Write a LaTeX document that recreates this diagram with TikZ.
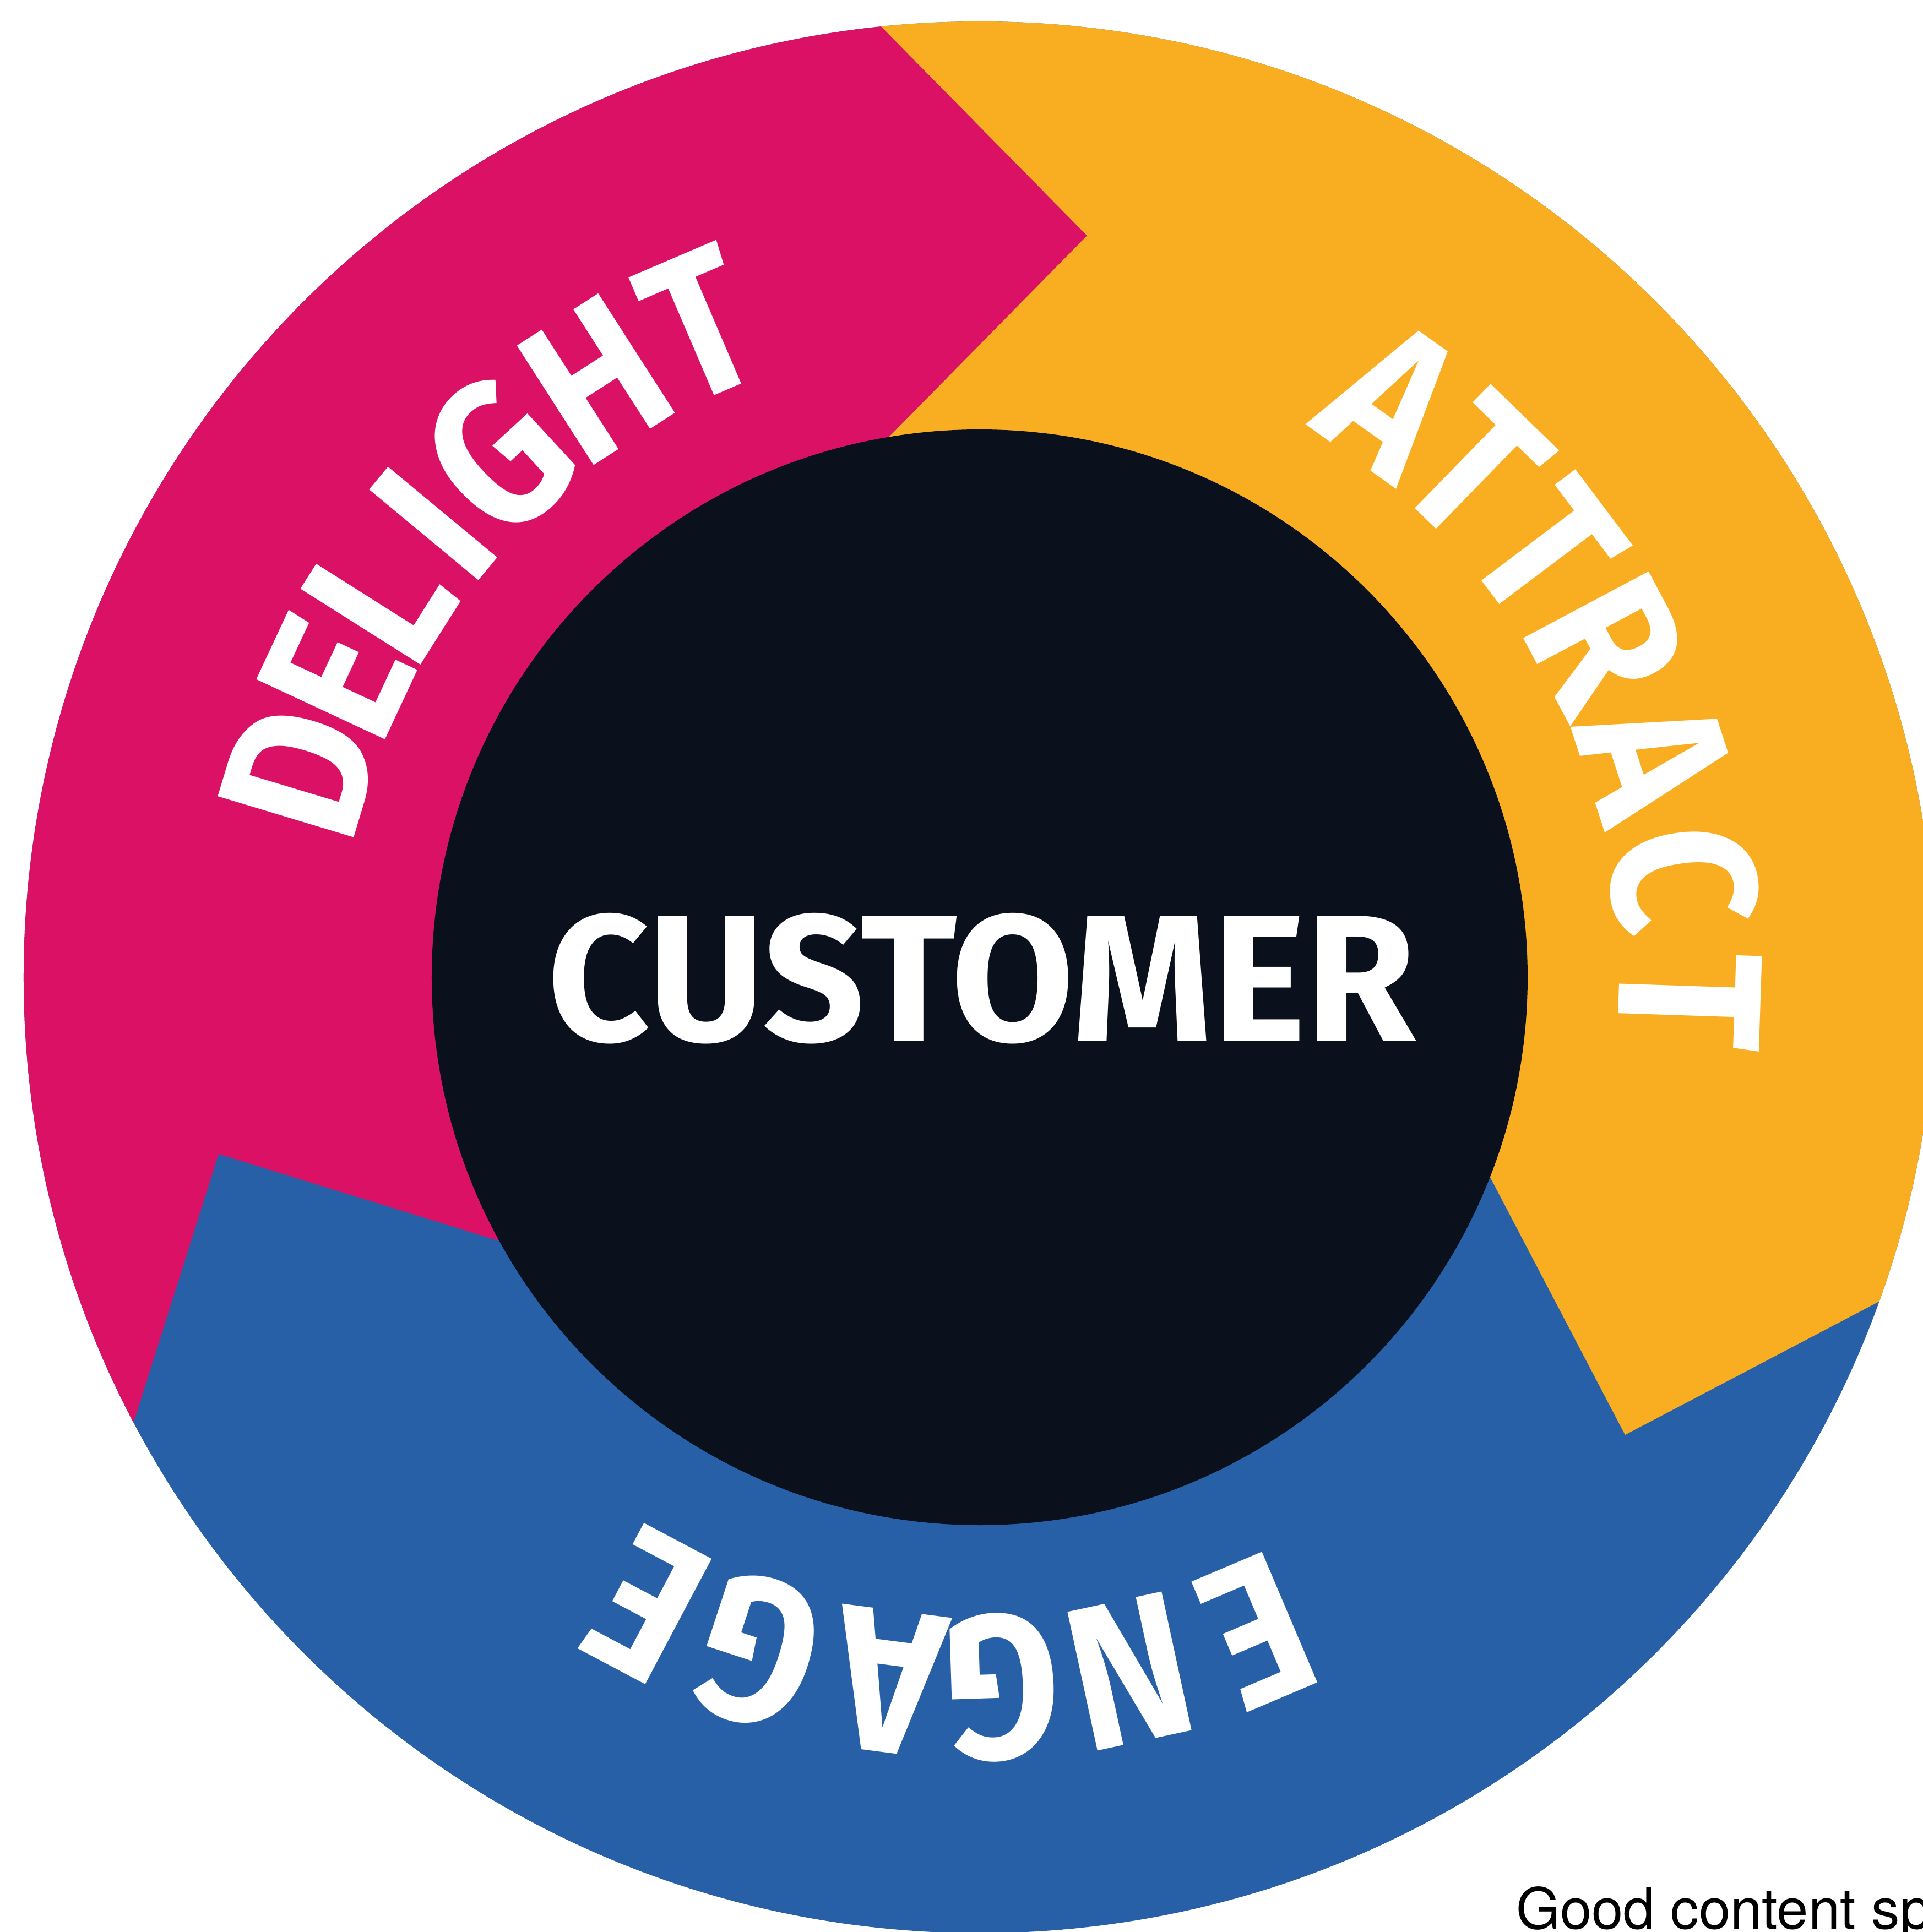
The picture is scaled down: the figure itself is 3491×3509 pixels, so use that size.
\documentclass[tikz,border=0pt]{standalone}
\usepackage{fontspec}
\usepackage{graphicx}
\newfontfamily\wordfont{Fira Sans}[FakeStretch=0.88]
\newfontfamily\notefont{TeX Gyre Heros}
\definecolor{delight}{RGB}{219,17,102}
\definecolor{attract}{RGB}{249,174,34}
\definecolor{engage}{RGB}{40,96,168}
\definecolor{core}{RGB}{10,17,29}

\begin{document}
\begin{tikzpicture}[x=1pt,y=1pt,
  ringletter/.style={text=white, inner sep=0pt, anchor=center,
    font=\wordfont\bfseries\fontsize{372}{372}\selectfont},
  corelabel/.style={text=white, inner sep=0pt, anchor=center},
  notelabel/.style={text=black, inner sep=0pt, anchor=base west,
    font=\notefont\fontsize{103}{103}\selectfont},
]
\useasboundingbox (-1779,-1734) rectangle (1712,1775);
\def\Rout{1736}
\def\Rin{995}
\def\Rtxt{1290}

% chevron corners between the three bands
\coordinate (o1) at (-182,1730);  \coordinate (v1) at (195,1347);   \coordinate (i1) at (-164,982);
\coordinate (o2) at (1633,-589);  \coordinate (v2) at (1172,-831);  \coordinate (i2) at (928,-365);
\coordinate (o3) at (-1536,-807); \coordinate (v3) at (-1382,-321); \coordinate (i3) at (-872,-479);

% ring: blue base, magenta and yellow arrows on top
\fill[engage] (0,0) circle (\Rout);
\begin{scope}
  \clip (0,0) circle (\Rout);
  \fill[delight] (-273,2595) -- (o1) -- (v1) -- (i1) -- (0,0) -- (i3) -- (v3) -- (o3)
    -- (-2304,-1210) -- (-2800,2595) -- cycle;
  \fill[attract] (-273,2595) -- (o1) -- (v1) -- (i1) -- (0,0) -- (i2) -- (v2) -- (o2)
    -- (2450,-884) -- (2800,2595) -- cycle;
\end{scope}

% centre disk
\fill[core] (0,0) circle (\Rin);
\node[corelabel] (customer) at (4,-2)
  {\resizebox{1575pt}{232pt}{\wordfont\bfseries CUSTOMER}};

% lettering around the ring, tops facing outwards
\foreach \ch/\ang [count=\i] in {D/163.2, E/155, L/147.7, I/140.3, G/132.7, H/122.7, T/113.2}
  \node[ringletter, rotate=\ang-90] (delight\i) at (\ang:\Rtxt) {\ch};
\foreach \ch/\ang [count=\i] in {A/54.5, T/45.8, T/37, R/28, A/18, C/8, T/-1.9}
  \node[ringletter, rotate=\ang-90] (attract\i) at (\ang:\Rtxt) {\ch};
\foreach \ch/\ang [count=\i] in {E/-67, N/-77.8, G/-88.2, A/-97.4, G/-108.2, E/-117.9}
  \node[ringletter, rotate=\ang-90] (engage\i) at (\ang:\Rtxt) {\ch};

% footnote running off the page edge
\node[notelabel] (note) at (974,-1728) {Good content sp};
\end{tikzpicture}
\end{document}
